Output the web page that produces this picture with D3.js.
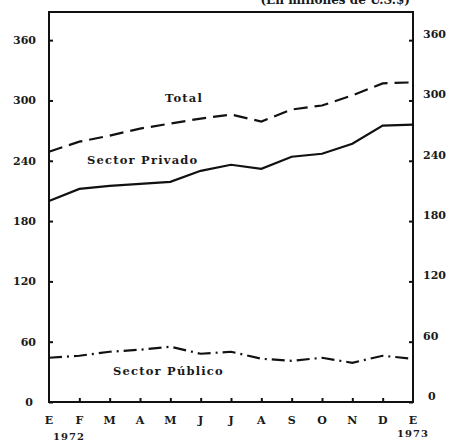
<!DOCTYPE html>
<html>
<head>
<meta charset="utf-8">
<script src="https://cdn.jsdelivr.net/npm/d3@7"></script>
<style>
  body { margin: 0; background: #fff; }
  svg text { font-family: "DejaVu Serif", "Liberation Serif", serif; font-weight: bold; fill: #1a1a1a; }
</style>
</head>
<body>
<svg width="452" height="444"></svg>
<script>
var months = ['E', 'F', 'M', 'A', 'M', 'J', 'J', 'A', 'S', 'O', 'N', 'D', 'E'];
var yTicks = [0, 60, 120, 180, 240, 300, 360];

// millones de U.S.$, ene 1972 - ene 1973
var total   = [249, 259, 265, 272, 277, 282, 286, 279, 291, 295, 305, 317, 318];
var privado = [200, 212, 215, 217, 219, 230, 236, 232, 244, 247, 257, 275, 276];
var publico = [44, 46, 50, 52, 55, 48, 50, 43, 41, 44, 39, 46, 43];

var svg = d3.select('svg'),
    plotL = 49, plotR = 413, plotT = 12, plotB = 402;

var x = d3.scaleLinear().domain([0, 12]).range([plotL, plotR]);
var y = d3.scaleLinear().domain([0, 388]).range([plotB, plotT]);

// frame
svg.append('rect')
  .attr('x', plotL).attr('y', plotT)
  .attr('width', plotR - plotL).attr('height', plotB - plotT)
  .attr('fill', 'none').attr('stroke', '#111').attr('stroke-width', 2);

// left axis
var yl = svg.append('g').attr('transform', 'translate(' + plotL + ',0)')
  .call(d3.axisRight(y).tickValues(yTicks).tickSize(4).tickFormat(''));
yl.select('.domain').remove();
yl.selectAll('line').attr('stroke', '#111').attr('stroke-width', 2);
svg.selectAll('.ylab').data(yTicks).enter().append('text')
  .attr('x', function(d) { return d === 0 ? 33 : 36; })
  .attr('y', function(d) { return y(d) + 4; })
  .attr('text-anchor', 'end')
  .attr('font-size', 11)
  .text(function(d) { return d; });

// right axis
var yr = svg.append('g').attr('transform', 'translate(' + plotR + ',0)')
  .call(d3.axisLeft(y).tickValues(yTicks).tickSize(4).tickFormat(''));
yr.select('.domain').remove();
yr.selectAll('line').attr('stroke', '#111').attr('stroke-width', 2);
svg.selectAll('.yrlab').data(yTicks).enter().append('text')
  .attr('x', function(d) { return d === 0 ? 428 : 423; })
  .attr('y', function(d) { return y(d) - 2; })
  .attr('font-size', 11)
  .text(function(d) { return d; });

// bottom axis
var xa = svg.append('g').attr('transform', 'translate(0,' + plotB + ')')
  .call(d3.axisTop(x).tickValues(d3.range(1, 12)).tickSize(4).tickFormat(''));
xa.select('.domain').remove();
xa.selectAll('line').attr('stroke', '#111').attr('stroke-width', 2);
svg.selectAll('.mlab').data(months).enter().append('text')
  .attr('x', function(d, i) { return x(i); })
  .attr('y', 424)
  .attr('text-anchor', 'middle')
  .attr('font-size', 11)
  .text(function(d) { return d; });
svg.append('text').attr('x', x(0) + 20).attr('y', 440)
  .attr('text-anchor', 'middle').attr('font-size', 10).attr('letter-spacing', 1).text('1972');
svg.append('text').attr('x', x(12)).attr('y', 437)
  .attr('text-anchor', 'middle').attr('font-size', 10).attr('letter-spacing', 1).text('1973');

// title (cut off at top)
svg.append('text').attr('x', 410).attr('y', 4)
  .attr('text-anchor', 'end').attr('font-size', 12)
  .text('(En millones de U.S.$)');

// lines
var line = d3.line()
  .x(function(d, i) { return x(i); })
  .y(function(d) { return y(d); });

function draw(data, dash) {
  svg.append('path')
    .datum(data)
    .attr('d', line)
    .attr('fill', 'none')
    .attr('stroke', '#111')
    .attr('stroke-width', 2.2)
    .attr('stroke-dasharray', dash);
}
draw(total, '14,7');
draw(privado, null);
draw(publico, '13,5,2,5');

// series labels
function label(tx, ty, s) {
  svg.append('text').attr('x', tx).attr('y', ty)
    .attr('font-size', 11.5).attr('letter-spacing', 1.2).text(s);
}
label(165, 102, 'Total');
label(87, 164, 'Sector Privado');
label(113, 375, 'Sector Público');
</script>
</body>
</html>
